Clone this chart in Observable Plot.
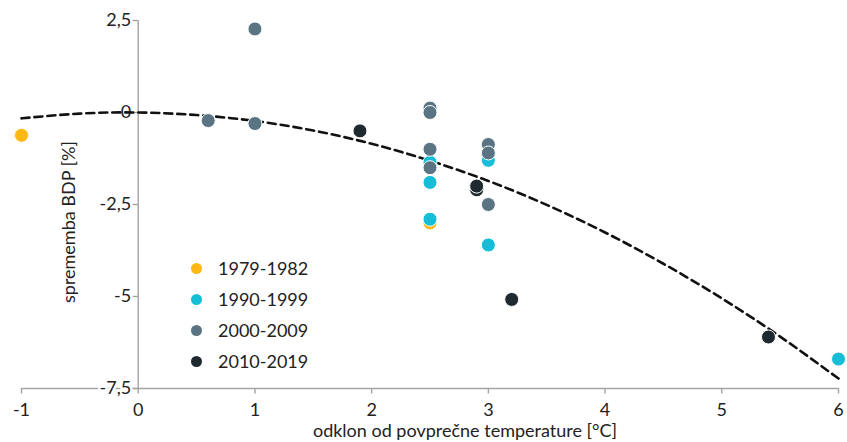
<!DOCTYPE html>
<html><head><meta charset="utf-8">
<script src="https://cdn.jsdelivr.net/npm/d3@7"></script>
<script src="https://cdn.jsdelivr.net/npm/@observablehq/plot@0.6"></script>
<style>
body{margin:0;background:#fff;font-family:Lato,sans-serif;color:#222;}
#wrap{position:relative;width:847px;height:442px;overflow:hidden;}
#wrap svg{position:absolute;left:0;top:0;}
.legend{position:absolute;left:191px;top:253px;font-size:18px;line-height:31px;}
.legend .row{display:flex;align-items:center;height:31px;}
.legend .sw{width:11px;height:11px;border-radius:50%;margin-right:16px;}
.xtitle{position:absolute;top:419px;left:0;width:930px;text-align:center;font-size:18px;white-space:nowrap;}
.ytitle{position:absolute;left:68px;top:222px;transform:translate(-50%,-50%) rotate(-90deg);font-size:18px;white-space:nowrap;}
</style></head><body><div id="wrap"></div>
<script>
// Series
const series = ["1979-1982", "1990-1999", "2000-2009", "2010-2019"];
const colors = ["#fdb813", "#15bdd6", "#5a7484", "#1e2a30"];

// 1979-1982
const x1979 = [-1, 2.5];
const y1979 = [-0.62, -3.0];
// 1990-1999
const x1990 = [2.5, 2.5, 2.5, 3, 3, 6];
const y1990 = [-1.35, -1.9, -2.9, -1.3, -3.6, -6.7];
// 2000-2009
const x2000 = [0.6, 1, 1, 2.5, 2.5, 2.5, 2.5, 3, 3, 3];
const y2000 = [-0.22, 2.27, -0.3, 0.12, 0.0, -1.0, -1.5, -0.87, -1.1, -2.5];
// 2010-2019
const x2010 = [1.9, 2.9, 2.9, 3.2, 5.4];
const y2010 = [-0.5, -2.1, -2.0, -5.08, -6.1];

// Fitted curve
const curveX = [-1, -0.5, 0, 0.5, 1, 1.5, 2, 2.5, 3, 3.5, 4, 4.5, 5, 5.5, 6];
const curveY = [-0.16, -0.03, 0, -0.07, -0.23, -0.49, -0.85, -1.31, -1.86, -2.51, -3.26, -4.11, -5.05, -6.09, -7.23];

// Ticks
const xTicks = [-1, 0, 1, 2, 3, 4, 5, 6];
const xTickLabels = ["-1", "0", "1", "2", "3", "4", "5", "6"];
const yTicks = [2.5, 0, -2.5, -5, -7.5];
const yTickLabels = ["2,5", "0", "-2,5", "-5", "-7,5"];

const xTitle = "odklon od povprečne temperature [°C]";
const yTitle = "sprememba BDP [%]";

const pts = [];
[[x1979, y1979], [x1990, y1990], [x2000, y2000], [x2010, y2010]].forEach(([xs, ys], i) => {
  xs.forEach((x, j) => pts.push({x, y: ys[j], s: series[i]}));
});
const curve = curveX.map((x, i) => ({x, y: curveY[i]}));

const axisColor = "#a3a3a3";
const chart = Plot.plot({
  width: 847,
  height: 442,
  marginLeft: 21,
  marginRight: 9,
  marginTop: 20,
  marginBottom: 54,
  x: {domain: [-1, 6], axis: null},
  y: {domain: [-7.5, 2.5], axis: null},
  color: {domain: series, range: colors},
  style: {fontFamily: "Lato, sans-serif", fontSize: "18px", color: "#222", background: "transparent", overflow: "visible"},
  marks: [
    Plot.ruleY([-7.5], {x1: -1, x2: 6, stroke: axisColor, strokeWidth: 1.4}),
    Plot.ruleX([0], {y1: -7.5, y2: 2.5, stroke: axisColor, strokeWidth: 1.4}),
    Plot.ruleX(xTicks, {x: d => d, y1: -7.5, y2: -7.65, stroke: axisColor, strokeWidth: 1.4}),
    Plot.ruleY(yTicks, {y: d => d, x1: -0.045, x2: 0, stroke: axisColor, strokeWidth: 1.4}),
    Plot.text(yTicks, {x: 0, y: d => d, text: (d, i) => yTickLabels[i], textAnchor: "end", dx: -7, fill: "#222", stroke: "white", strokeWidth: 5, paintOrder: "stroke"}),
    Plot.text(xTicks, {x: d => d, y: -7.5, text: (d, i) => xTickLabels[i], dy: 22, fill: "#222"}),
    Plot.line(curve, {x: "x", y: "y", curve: "natural", stroke: "#111", strokeWidth: 2.6, strokeDasharray: "8,5"}),
    Plot.dot(pts, {x: "x", y: "y", fill: "s", r: 7, stroke: "white", strokeWidth: 1})
  ]
});
const wrap = document.getElementById("wrap");
wrap.appendChild(chart);

const leg = document.createElement("div");
leg.className = "legend";
series.forEach((s, i) => {
  const row = document.createElement("div");
  row.className = "row";
  const sw = document.createElement("span");
  sw.className = "sw";
  sw.style.background = colors[i];
  const t = document.createElement("span");
  t.textContent = s;
  row.appendChild(sw); row.appendChild(t);
  leg.appendChild(row);
});
wrap.appendChild(leg);

const xt = document.createElement("div");
xt.className = "xtitle"; xt.textContent = xTitle; wrap.appendChild(xt);
const yt = document.createElement("div");
yt.className = "ytitle"; yt.textContent = yTitle; wrap.appendChild(yt);
</script></body></html>
